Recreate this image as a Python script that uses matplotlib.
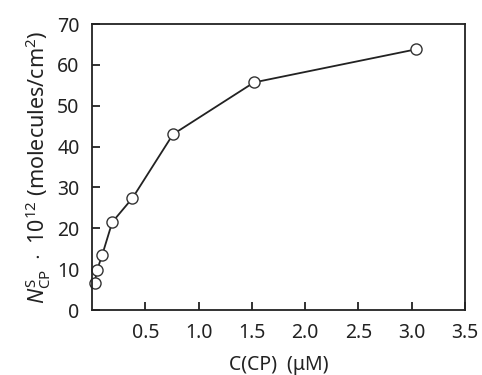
import matplotlib
matplotlib.use("Agg")
import matplotlib.pyplot as plt

conc = [0.024, 0.048, 0.095, 0.19, 0.38, 0.76, 1.52, 3.04]
density = [6.6, 9.8, 13.4, 21.5, 27.4, 43.0, 55.7, 63.8]
xticks = [0.5, 1.0, 1.5, 2.0, 2.5, 3.0, 3.5]
yticks = [0, 10, 20, 30, 40, 50, 60, 70]

plt.rcParams['font.family'] = ['Noto Sans', 'DejaVu Sans']
plt.rcParams['mathtext.fontset'] = 'custom'
plt.rcParams['mathtext.rm'] = 'Noto Sans'
plt.rcParams['mathtext.it'] = 'Noto Sans:italic'

fig = plt.figure(figsize=(4.82, 3.75), dpi=100)
ax = fig.add_axes([92/482, 1-310/375, (465-92)/482, (310-24)/375])
ax.plot(conc, density, color='#222222', lw=1.3, marker='o', ms=8,
        mfc='white', mec='#333333', mew=1.0, clip_on=False)
ax.set_xlim(0, 3.5)
ax.set_ylim(0, 70)
ax.set_xticks(xticks)
ax.set_xticklabels([f"{v:.1f}" for v in xticks])
ax.set_yticks(yticks)
ax.tick_params(direction='in', length=6, width=1.3, labelsize=14, colors='#222222', pad=9)
for s in ax.spines.values():
    s.set_linewidth(1.3)
    s.set_color('#222222')
ax.set_xlabel('C(CP)  (μM)', fontsize=14, color='#222222', labelpad=9)
ax.set_ylabel(r'$N^{\mathrm{S}}_{\mathrm{CP}}\ \cdot\ 10^{12}$ (molecules/cm$^{2}$)', fontsize=15.5, color='#222222', labelpad=3)
fig.savefig('out.png', dpi=100)
